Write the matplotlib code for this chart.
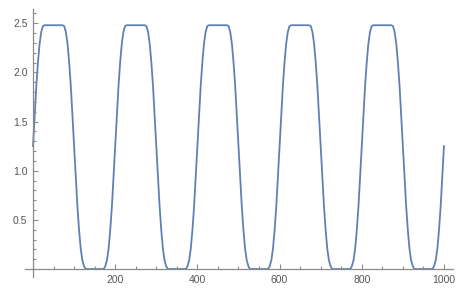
import numpy as np
import matplotlib
matplotlib.use("Agg")
import matplotlib.pyplot as plt
from matplotlib.ticker import MultipleLocator, FixedLocator

# points (5 cycles, period ~200)
x_pts = [0, 4, 8, 12, 16, 20, 24, 28, 72, 76, 80, 84, 88, 92, 96,
         100, 104, 108, 112, 116, 120, 124, 128, 172, 176, 180, 184, 188, 192, 196,
         200, 204, 208, 212, 216, 220, 224, 228, 272, 276, 280, 284, 288, 292, 296,
         300, 304, 308, 312, 316, 320, 324, 328, 372, 376, 380, 384, 388, 392, 396,
         400, 404, 408, 412, 416, 420, 424, 428, 472, 476, 480, 484, 488, 492, 496,
         500, 504, 508, 512, 516, 520, 524, 528, 572, 576, 580, 584, 588, 592, 596,
         600, 604, 608, 612, 616, 620, 624, 628, 672, 676, 680, 684, 688, 692, 696,
         700, 704, 708, 712, 716, 720, 724, 728, 772, 776, 780, 784, 788, 792, 796,
         800, 804, 808, 812, 816, 820, 824, 828, 872, 876, 880, 884, 888, 892, 896,
         900, 904, 908, 912, 916, 920, 924, 928, 972, 976, 980, 984, 988, 992, 996,
         1000]
y_pts = [1.25, 1.56, 1.86, 2.10, 2.29, 2.41, 2.47, 2.48, 2.48, 2.47, 2.41, 2.29, 2.10, 1.86, 1.56,
         1.25, 0.94, 0.64, 0.40, 0.21, 0.09, 0.03, 0.00, 0.00, 0.03, 0.09, 0.21, 0.40, 0.64, 0.94,
         1.25, 1.56, 1.86, 2.10, 2.29, 2.41, 2.47, 2.48, 2.48, 2.47, 2.41, 2.29, 2.10, 1.86, 1.56,
         1.25, 0.94, 0.64, 0.40, 0.21, 0.09, 0.03, 0.00, 0.00, 0.03, 0.09, 0.21, 0.40, 0.64, 0.94,
         1.25, 1.56, 1.86, 2.10, 2.29, 2.41, 2.47, 2.48, 2.48, 2.47, 2.41, 2.29, 2.10, 1.86, 1.56,
         1.25, 0.94, 0.64, 0.40, 0.21, 0.09, 0.03, 0.00, 0.00, 0.03, 0.09, 0.21, 0.40, 0.64, 0.94,
         1.25, 1.56, 1.86, 2.10, 2.29, 2.41, 2.47, 2.48, 2.48, 2.47, 2.41, 2.29, 2.10, 1.86, 1.56,
         1.25, 0.94, 0.64, 0.40, 0.21, 0.09, 0.03, 0.00, 0.00, 0.03, 0.09, 0.21, 0.40, 0.64, 0.94,
         1.25, 1.56, 1.86, 2.10, 2.29, 2.41, 2.47, 2.48, 2.48, 2.47, 2.41, 2.29, 2.10, 1.86, 1.56,
         1.25, 0.94, 0.64, 0.40, 0.21, 0.09, 0.03, 0.00, 0.00, 0.03, 0.09, 0.21, 0.40, 0.64, 0.94,
         1.25]

x_ticks = [200, 400, 600, 800, 1000]
y_ticks = [0.5, 1.0, 1.5, 2.0, 2.5]

axis_col = "#8a8a8a"
label_col = "#555555"

plt.rcParams['font.family'] = ['Liberation Sans', 'DejaVu Sans']

fig = plt.figure(figsize=(4.74, 3.04), dpi=100)
ax = fig.add_axes([25/474, 27/304, 428/474, 268/304])

ax.plot(x_pts, y_pts, color="#5E81B5", lw=1.3, solid_joinstyle="round")

ax.set_xlim(-19.5, 1022)
ax.set_ylim(-0.081, 2.645)

# Mathematica-style axes crossing at the origin
for s in ["top", "right"]:
    ax.spines[s].set_visible(False)
ax.spines["left"].set_position(("data", 0))
ax.spines["bottom"].set_position(("data", 0))
for s in ["left", "bottom"]:
    ax.spines[s].set_color(axis_col)
    ax.spines[s].set_linewidth(0.9)

ax.xaxis.set_major_locator(FixedLocator(x_ticks))
ax.yaxis.set_major_locator(FixedLocator(y_ticks))
ax.xaxis.set_minor_locator(MultipleLocator(50))
ax.yaxis.set_minor_locator(MultipleLocator(0.1))
ax.set_xticklabels([str(v) for v in x_ticks])
ax.set_yticklabels(["%.1f" % v for v in y_ticks])

ax.tick_params(which="both", direction="in", color=axis_col, width=0.8,
               labelcolor=label_col, labelsize=7.5)
ax.tick_params(which="major", length=3.5, pad=4)
ax.tick_params(which="minor", length=2)
ax.set_axisbelow(False)

fig.savefig("out.png", dpi=100)
